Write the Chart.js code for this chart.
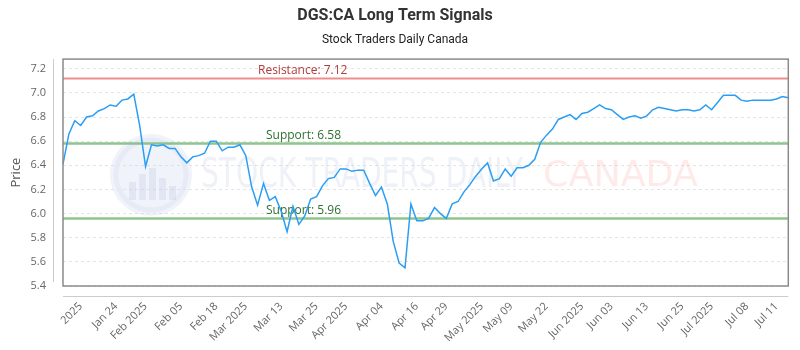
<!DOCTYPE html>
<html>
<head>
<meta charset="utf-8">
<script src="https://cdn.jsdelivr.net/npm/chart.js@4.4.1/dist/chart.umd.min.js"></script>
<style>
  html, body { margin: 0; padding: 0; background: #fff; }
  #wrap { width: 800px; height: 350px; }
</style>
</head>
<body>
<div id="wrap"><canvas id="signalsChart"></canvas></div>
<script>
// closing prices, one per trading day
const prices = [
    6.41, 6.66, 6.77, 6.73, 6.80, 6.81, 6.85, 6.87, 6.90, 6.89,
    6.94, 6.95, 6.99, 6.73, 6.39, 6.57, 6.56, 6.57, 6.54, 6.54,
    6.47, 6.42, 6.47, 6.48, 6.50, 6.60, 6.60, 6.52, 6.55, 6.55,
    6.57, 6.48, 6.22, 6.07, 6.25, 6.11, 6.14, 6.02, 5.85, 6.06,
    5.91, 5.98, 6.12, 6.14, 6.23, 6.29, 6.30, 6.37, 6.37, 6.35,
    6.36, 6.36, 6.25, 6.15, 6.22, 6.08, 5.77, 5.59, 5.55, 6.08,
    5.94, 5.94, 5.96, 6.05, 6.00, 5.96, 6.08, 6.10, 6.18, 6.24,
    6.31, 6.37, 6.42, 6.27, 6.29, 6.37, 6.31, 6.38, 6.38, 6.40,
    6.45, 6.59, 6.65, 6.70, 6.78, 6.80, 6.82, 6.78, 6.83, 6.84,
    6.87, 6.90, 6.87, 6.86, 6.82, 6.78, 6.80, 6.81, 6.79, 6.81,
    6.86, 6.88, 6.87, 6.86, 6.85, 6.86, 6.86, 6.85, 6.86, 6.90,
    6.86, 6.92, 6.98, 6.98, 6.98, 6.94, 6.93, 6.94, 6.94, 6.94,
    6.94, 6.95, 6.97, 6.96
];

// x tick labels and the data index each one sits on
const tickLabels = ["2025", "Jan 24", "Feb 2025", "Feb 05", "Feb 18", "Mar 2025", "Mar 13", "Mar 25",
    "Apr 2025", "Apr 04", "Apr 16", "Apr 29", "May 2025", "May 09", "May 22", "Jun 2025",
    "Jun 03", "Jun 13", "Jun 25", "Jul 2025", "Jul 08", "Jul 11"];
const tickIndex = [3, 9, 14, 20, 26, 31, 37, 43, 48, 54, 60, 65, 71, 76, 82, 88, 93, 99, 105, 110, 116, 121];

const yTicks = [5.4, 5.6, 5.8, 6.0, 6.2, 6.4, 6.6, 6.8, 7.0, 7.2];

const resistance = 7.12;
const supports = [6.58, 5.96];

const labels = prices.map((p, i) => i);

// box, offset axis lines, watermark, signal lines
const decorPlugin = {
    id: "decor",
    beforeDatasetsDraw(chart) {
        const { ctx, chartArea: a, scales } = chart;
        const y = scales.y;
        ctx.save();

        // watermark
        const cx = a.left + 88, cy = 175, r = 41;
        ctx.beginPath();
        ctx.arc(cx, cy, r, 0, Math.PI * 2);
        ctx.fillStyle = "rgba(205,214,235,0.3)";
        ctx.fill();
        ctx.lineWidth = 5;
        ctx.strokeStyle = "rgba(228,232,244,0.7)";
        ctx.beginPath();
        ctx.arc(cx, cy, r - 6, 0, Math.PI * 2);
        ctx.stroke();
        ctx.fillStyle = "rgba(190,200,225,0.3)";
        [[-22, 18], [-12, 26], [-2, 32], [8, 22], [18, 14]].forEach(([dx, h]) => {
            ctx.fillRect(cx + dx, cy + 25 - h, 7, h);
        });

        ctx.textBaseline = "middle";
        ctx.textAlign = "left";
        ctx.font = "40px 'DejaVu Sans Condensed'";
        let txt = "STOCK TRADERS DAILY";
        let w = ctx.measureText(txt).width;
        ctx.save();
        ctx.translate(201, 177);
        ctx.scale(322 / w, 1);
        ctx.fillStyle = "rgba(195,205,225,0.28)";
        ctx.fillText(txt, 0, 0);
        ctx.restore();
        txt = "CANADA";
        ctx.font = "36px 'DejaVu Sans'";
        w = ctx.measureText(txt).width;
        ctx.save();
        ctx.translate(543, 177);
        ctx.scale(155 / w, 1);
        ctx.fillStyle = "rgba(255,160,160,0.22)";
        ctx.fillText(txt, 0, 0);
        ctx.restore();

        // resistance / support
        ctx.lineWidth = 2;
        ctx.strokeStyle = "rgba(238,130,130,0.9)";
        let py = y.getPixelForValue(resistance);
        ctx.beginPath();
        ctx.moveTo(a.left, py);
        ctx.lineTo(a.right, py);
        ctx.stroke();
        ctx.font = "12px 'Open Sans'";
        ctx.textBaseline = "bottom";
        ctx.fillStyle = "#b23b3b";
        ctx.fillText("Resistance: " + resistance.toFixed(2), a.left + 195, py - 2);

        ctx.lineWidth = 2.5;
        ctx.strokeStyle = "rgba(130,190,130,0.9)";
        supports.forEach((s) => {
            const sy = y.getPixelForValue(s);
            ctx.beginPath();
            ctx.moveTo(a.left, sy);
            ctx.lineTo(a.right, sy);
            ctx.stroke();
            ctx.fillStyle = "#2e7030";
            ctx.fillText("Support: " + s.toFixed(2), a.left + 203, sy - 2);
        });
        ctx.restore();
    },
    afterDraw(chart) {
        const { ctx, chartArea: a } = chart;
        ctx.save();
        ctx.strokeStyle = "#8a8a8a";
        ctx.lineWidth = 1.5;
        ctx.strokeRect(a.left, a.top, a.right - a.left, a.bottom - a.top);
        ctx.strokeStyle = "#cccccc";
        ctx.lineWidth = 1;
        ctx.beginPath();
        ctx.moveTo(a.left - 9.5, a.top);
        ctx.lineTo(a.left - 9.5, a.bottom - 4);
        ctx.moveTo(a.left, a.bottom + 10.5);
        ctx.lineTo(a.right, a.bottom + 10.5);
        ctx.stroke();
        ctx.restore();
    }
};

const ctxSignals = document.getElementById("signalsChart").getContext("2d");
const signalsChart = new Chart(ctxSignals, {
    type: "line",
    data: {
        labels: labels,
        datasets: [{
            label: "Price",
            data: prices,
            borderColor: "#2a9df4",
            borderWidth: 1.5,
            pointRadius: 0,
            tension: 0,
            fill: false
        }]
    },
    options: {
        responsive: true,
        maintainAspectRatio: false,
        animation: false,
        layout: { padding: { left: 0, right: 10, top: 0, bottom: 0 } },
        plugins: {
            legend: { display: false },
            tooltip: { enabled: false },
            title: {
                display: true,
                text: "DGS:CA Long Term Signals",
                color: "#333",
                font: { family: "Roboto", size: 16, weight: "bold" },
                padding: { top: 6, bottom: 6 }
            },
            subtitle: {
                display: true,
                text: "Stock Traders Daily Canada",
                color: "#222",
                font: { family: "Roboto", size: 12 },
                padding: { top: 2, bottom: 11.5 }
            }
        },
        scales: {
            x: {
                type: "category",
                offset: false,
                grid: { display: false, drawTicks: false },
                border: { display: false },
                afterFit: (scale) => { scale.height = 64; },
                ticks: {
                    autoSkip: false,
                    minRotation: 45,
                    maxRotation: 45,
                    padding: 14,
                    color: "#666",
                    font: { family: "Open Sans", size: 11 },
                    callback: (value, index) => {
                        const k = tickIndex.indexOf(index);
                        return k >= 0 ? tickLabels[k] : null;
                    }
                }
            },
            y: {
                min: 5.4,
                max: 7.28,
                grid: { color: "#e4e4e4", drawTicks: false },
                border: { display: false, dash: [3, 3] },
                afterFit: (scale) => { scale.width = 63; },
                afterBuildTicks: (scale) => {
                    scale.ticks = yTicks.map((v) => ({ value: v }));
                },
                title: {
                    display: true,
                    text: "Price",
                    color: "#555",
                    font: { family: "Open Sans", size: 13 },
                    padding: { top: 8, bottom: 0 }
                },
                ticks: {
                    padding: 17,
                    color: "#666",
                    font: { family: "Open Sans", size: 11 },
                    callback: (v) => Number(v).toFixed(1)
                }
            }
        }
    },
    plugins: [decorPlugin]
});
</script>
</body>
</html>
